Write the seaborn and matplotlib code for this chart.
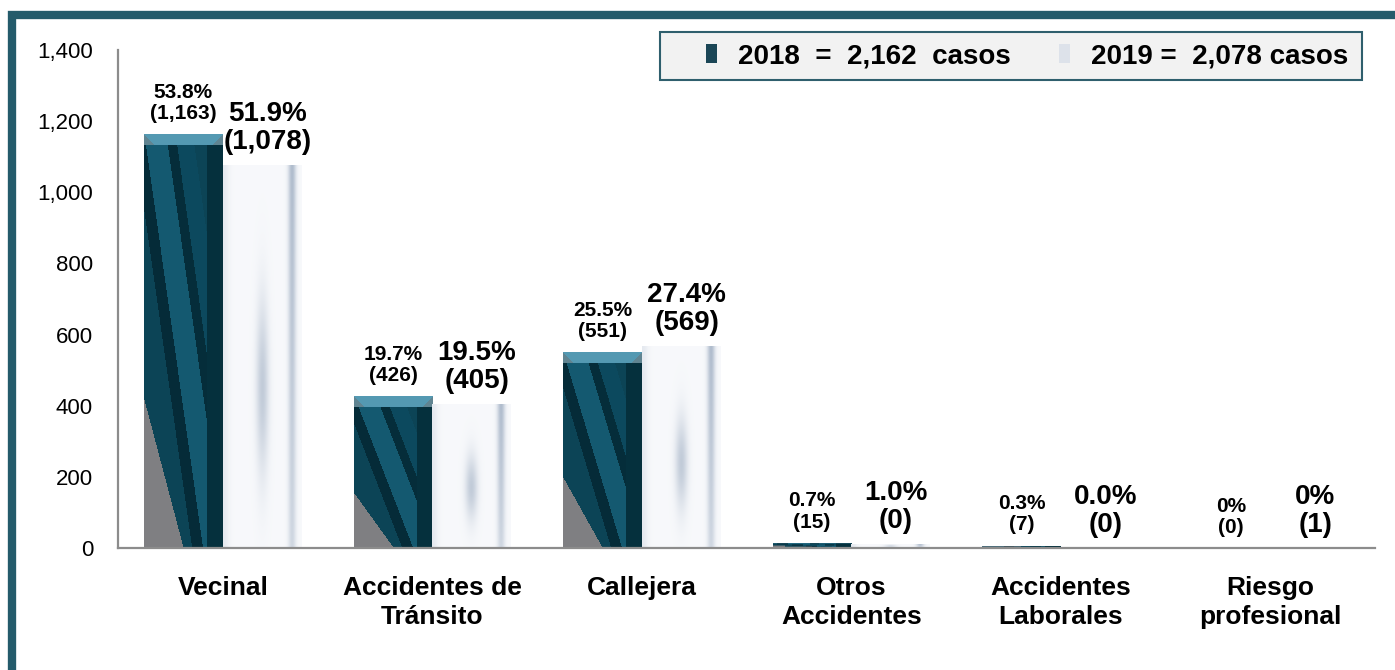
import numpy as np
import pandas as pd
import seaborn as sns
import matplotlib
matplotlib.use("Agg")
import matplotlib.pyplot as plt
from matplotlib.patches import Patch, Rectangle
from matplotlib.ticker import FuncFormatter

# === data ===
categorias = ["Vecinal", "Accidentes de\nTránsito", "Callejera",
              "Otros\nAccidentes", "Accidentes\nLaborales", "Riesgo\nprofesional"]
casos_2018 = [1163, 426, 551, 15, 7, 0]
casos_2019 = [1078, 405, 569, 12, 0, 1]
pct_2018 = ["53.8%", "19.7%", "25.5%", "0.7%", "0.3%", "0%"]
num_2018 = ["(1,163)", "(426)", "(551)", "(15)", "(7)", "(0)"]
pct_2019 = ["51.9%", "19.5%", "27.4%", "1.0%", "0.0%", "0%"]
num_2019 = ["(1,078)", "(405)", "(569)", "(0)", "(0)", "(1)"]
anios = ["2018", "2019"]
leyenda = ["2018  =  2,162  casos", "2019 =  2,078 casos"]

TEAL = "#0e475a"
CLARO = "#eef1f5"
FRAME = "#245b6b"

sns.set_style("white")
plt.rcParams["font.family"] = ["Liberation Sans", "DejaVu Sans"]
plt.rcParams["text.color"] = "black"
plt.rcParams["xtick.color"] = "black"
plt.rcParams["ytick.color"] = "black"

df = pd.DataFrame({
    "categoria": categorias * 2,
    "anio": [anios[0]] * len(categorias) + [anios[1]] * len(categorias),
    "casos": casos_2018 + casos_2019,
})

W, H = 1395, 670
fig = plt.figure(figsize=(W / 100, H / 100), dpi=100)
ax = fig.add_axes([118 / W, 1 - 548 / H, (1375 - 118) / W, (548 - 50) / H])

sns.barplot(data=df, x="categoria", y="casos", hue="anio", hue_order=anios,
            order=categorias, palette=[TEAL, CLARO], width=0.75, saturation=1,
            linewidth=0, legend=False, ax=ax)

ax.set_xlim(-0.5, 5.5)
ax.set_ylim(0, 1400)
ax.set_yticks(np.arange(0, 1401, 200))
ax.yaxis.set_major_formatter(FuncFormatter(lambda v, p: f"{int(v):,}"))
ax.set_xlabel("")
ax.set_ylabel("")
ax.tick_params(axis="y", length=0, pad=18, labelsize=16, colors="black")
ax.tick_params(axis="x", length=0, pad=20, colors="black")
for t in ax.get_xticklabels():
    t.set_fontsize(19)
    t.set_fontweight("bold")
    t.set_linespacing(1.25)
for s in ["top", "right"]:
    ax.spines[s].set_visible(False)
for s in ["left", "bottom"]:
    ax.spines[s].set_color("#8c8c8c")
    ax.spines[s].set_linewidth(1.6)
ax.grid(False)

fig.canvas.draw()


# --- textures for the bars (decoration clipped to each bar) ---
def textura_2018(h, w):
    yy, xx = np.mgrid[0:h, 0:w]
    u = xx / max(w - 1, 1)
    v = 1 - yy / max(h - 1, 1)
    img = np.zeros((h, w, 3))
    img[:] = (0.05, 0.27, 0.34)
    t = u - 0.75 * (1 - v)
    img[(t > -0.14) & (t < 0.0)] = (0.02, 0.17, 0.22)
    img[(t >= 0.0) & (t < 0.28)] = (0.08, 0.35, 0.44)
    img[(t >= 0.28) & (t < 0.40)] = (0.02, 0.18, 0.23)
    img[(t >= 0.40) & (t < 0.62)] = (0.05, 0.29, 0.37)
    img[u > 0.80] = (0.02, 0.19, 0.24)
    gris = u + 1.4 * v < 0.5
    img[gris] = (0.50, 0.50, 0.51)
    # bevel on top
    nb = min(11, h // 3)
    for r in range(nb):
        img[r, :] = (0.38, 0.52, 0.57)
        img[r, r:max(w - r, r)] = (0.33, 0.60, 0.70)
    return img


def textura_2019(h, w):
    yy, xx = np.mgrid[0:h, 0:w]
    u = xx / max(w - 1, 1)
    v = 1 - yy / max(h - 1, 1)
    base = np.array([0.97, 0.975, 0.985])
    img = np.ones((h, w, 3)) * base
    stripe = np.exp(-((u - 0.88) / 0.05) ** 2) * (0.55 + 0.45 * v)
    wisp = np.exp(-((u - 0.5) / 0.08) ** 2) * np.exp(-((v - 0.42) / 0.22) ** 2)
    edge = np.exp(-(u / 0.07) ** 2) * 0.5
    tone = np.array([0.62, 0.68, 0.76])
    amt = np.clip(stripe * 0.8 + wisp * 0.6 + edge * 0.4, 0, 1)[..., None]
    img = img * (1 - amt) + tone * amt
    return img


n = len(categorias)
for i, p in enumerate(ax.patches):
    hgt = p.get_height()
    if hgt <= 0:
        continue
    x0 = p.get_x()
    x1 = x0 + p.get_width()
    (px0, py0), (px1, py1) = ax.transData.transform([(x0, 0), (x1, hgt)])
    hp = max(int(round(py1 - py0)), 2)
    wp = max(int(round(px1 - px0)), 2)
    img = textura_2018(hp, wp) if i < n else textura_2019(hp, wp)
    im = ax.imshow(img, extent=[x0, x1, 0, hgt], aspect="auto",
                   interpolation="bilinear", zorder=p.get_zorder() + 0.1)
    im.set_clip_path(p)

ax.set_xlim(-0.5, 5.5)
ax.set_ylim(0, 1400)

# --- value labels ---
for i, p in enumerate(ax.patches):
    xc = p.get_x() + p.get_width() / 2
    hgt = p.get_height()
    if i < n:
        txt = f"{pct_2018[i]}\n{num_2018[i]}"
        ax.annotate(txt, (xc, hgt), xytext=(0, 8), textcoords="offset points",
                    ha="center", va="bottom", fontsize=15, fontweight="bold",
                    linespacing=1.15, zorder=5)
    else:
        j = i - n
        txt = f"{pct_2019[j]}\n{num_2019[j]}"
        ax.annotate(txt, (xc, hgt), xytext=(4, 7), textcoords="offset points",
                    ha="center", va="bottom", fontsize=20, fontweight="bold",
                    linespacing=1.1, zorder=5)

# --- legend with its own framed box ---
fig.add_artist(Rectangle((660 / W, 1 - 80 / H), 702 / W, 48 / H,
                         transform=fig.transFigure, facecolor="#f2f2f2",
                         edgecolor="#2f5f6d", linewidth=1.5, zorder=1))
handles = [Patch(facecolor="#1b4656", edgecolor="none"),
           Patch(facecolor="#dde2ea", edgecolor="none")]
leg = fig.legend(handles, leyenda, loc="center left",
                 bbox_to_anchor=(706 / W, 1 - 56 / H), ncol=2, frameon=False,
                 prop={"weight": "bold", "size": 20}, handlelength=0.4,
                 handleheight=0.7, handletextpad=0.75, columnspacing=1.75,
                 borderpad=0, borderaxespad=0)
leg.set_zorder(2)

# --- outer teal frame (runs off the right and bottom edges) ---
fig.add_artist(Rectangle((12 / W, -0.2), 1.5, 1.2 - 15 / H,
                         transform=fig.transFigure, fill=False,
                         edgecolor=FRAME, linewidth=6, clip_on=False))

fig.savefig("out.png", dpi=100)
